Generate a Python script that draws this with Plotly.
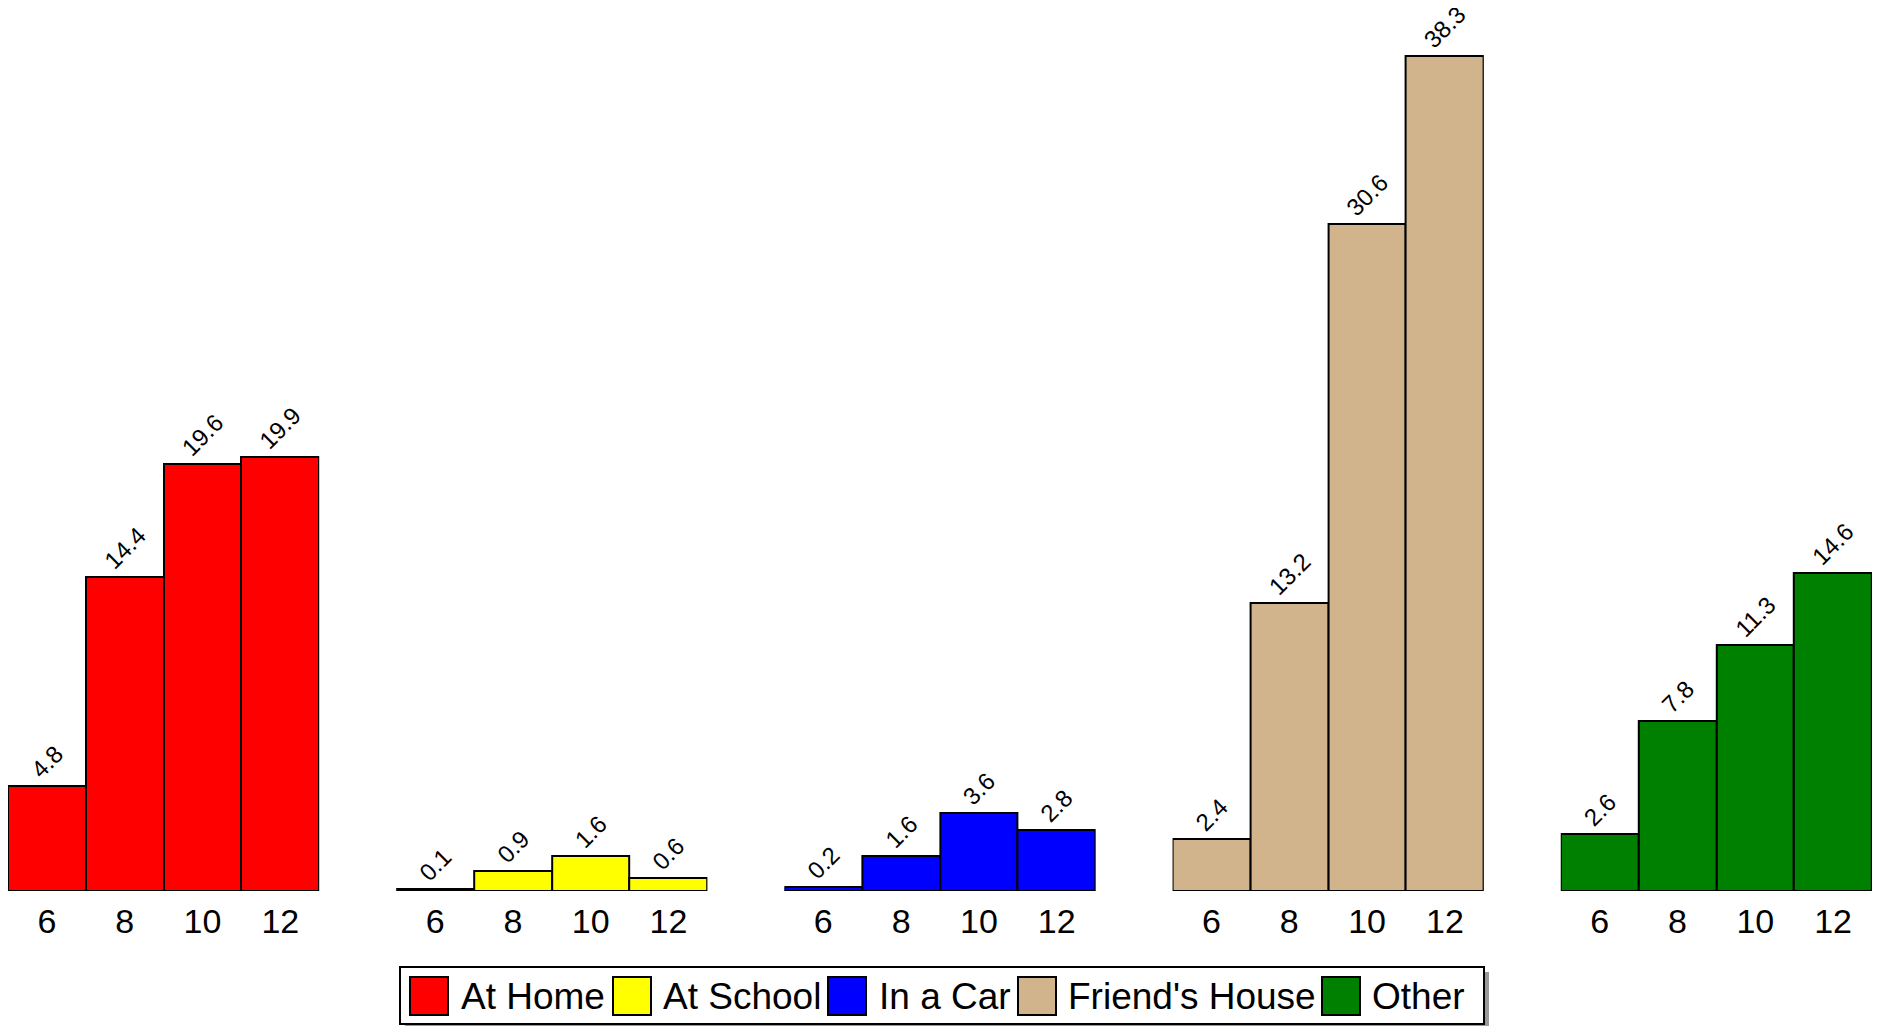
import plotly.graph_objects as go
from plotly.subplots import make_subplots

grades = ["6", "8", "10", "12"]
places = ["At Home", "At School", "In a Car", "Friend's House", "Other"]
colors = ["#FF0000", "#FFFF00", "#0000FF", "#D2B48C", "#008000"]

at_home = [4.8, 14.4, 19.6, 19.9]
at_school = [0.1, 0.9, 1.6, 0.6]
in_car = [0.2, 1.6, 3.6, 2.8]
friends_house = [2.4, 13.2, 30.6, 38.3]
other = [2.6, 7.8, 11.3, 14.6]

series = [at_home, at_school, in_car, friends_house, other]

# page body has an 8px margin, so the figure sits 8px right/down on screen
OFF = 8
W, H = 1881, 1026
ML, MR, MT, MB = 0, 17, 0, 143
PW, PH = W - ML - MR, H - MT - MB


def px(x):
    return (x - OFF - ML) / PW


def py(y):
    return (H - MB - (y - OFF)) / PH


fig = make_subplots(rows=1, cols=5, horizontal_spacing=0.0413)

for i, (name, vals, col) in enumerate(zip(places, series, colors)):
    fig.add_trace(go.Bar(
        x=grades, y=vals, name=name, showlegend=False,
        marker=dict(color=col, line=dict(color="black", width=2)),
        text=[f"{v:.1f}" for v in vals],
        textposition="outside", textangle=-45, cliponaxis=False,
        textfont=dict(size=24, color="black"),
    ), row=1, col=i + 1)

fig.update_xaxes(showgrid=False, showline=False, zeroline=False, ticks="",
                 automargin=False, ticklabelstandoff=7,
                 tickfont=dict(size=34, color="black"))
fig.update_yaxes(range=[0, 40.5], visible=False, showgrid=False, automargin=False)

# legend box drawn by hand so the swatches match the reference size
shapes = [
    dict(type="rect", xref="paper", yref="paper", layer="above",
         x0=px(405), x1=px(1489), y0=py(972), y1=py(1030),
         fillcolor="#999999", line=dict(width=0)),
    dict(type="rect", xref="paper", yref="paper", layer="above",
         x0=px(400), x1=px(1484), y0=py(967), y1=py(1024),
         fillcolor="white", line=dict(color="black", width=2)),
]
swatch_x = [410, 613, 828, 1018, 1322]
label_x = [459, 661, 877, 1066, 1370]
annotations = []
for name, col, sx, lx in zip(places, colors, swatch_x, label_x):
    shapes.append(dict(type="rect", xref="paper", yref="paper", layer="above",
                       x0=px(sx), x1=px(sx + 38), y0=py(977), y1=py(1015),
                       fillcolor=col, line=dict(color="black", width=2)))
    annotations.append(dict(text=name, xref="paper", yref="paper", x=px(lx), y=py(996),
                            xanchor="left", yanchor="middle", showarrow=False,
                            font=dict(size=37, color="black")))

fig.update_layout(
    width=W, height=H,
    margin=dict(l=ML, r=MR, t=MT, b=MB),
    bargap=0, plot_bgcolor="white", paper_bgcolor="white",
    font=dict(family="Liberation Sans, Arial, sans-serif", color="black"),
    uniformtext=dict(minsize=24, mode="show"),
    showlegend=False,
    shapes=shapes, annotations=annotations,
)

fig.write_html("out.html")
